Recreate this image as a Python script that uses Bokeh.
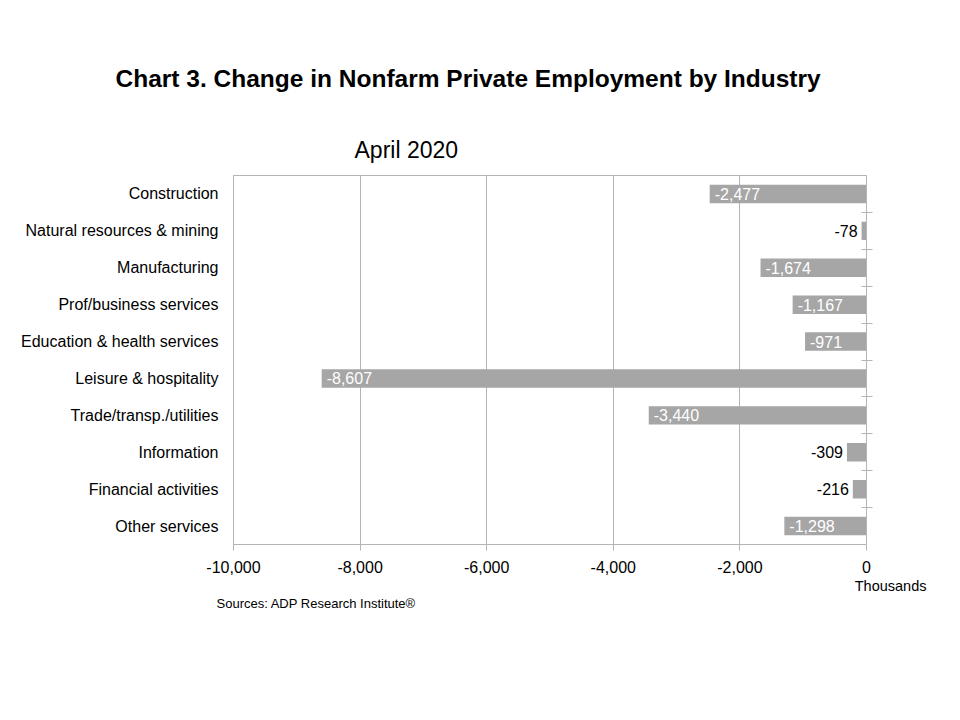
from bokeh.plotting import figure
from bokeh.models import (Range1d, FixedTicker, LinearAxis, NumeralTickFormatter,
                          Title, ColumnDataSource)
from bokeh.core.properties import value
from bokeh.embed import file_html
from bokeh.resources import INLINE

industries = ["Construction", "Natural resources & mining", "Manufacturing",
              "Prof/business services", "Education & health services",
              "Leisure & hospitality", "Trade/transp./utilities", "Information",
              "Financial activities", "Other services"]
changes = [-2477, -78, -1674, -1167, -971, -8607, -3440, -309, -216, -1298]
x_ticks = [-10000, -8000, -6000, -4000, -2000, 0]

FONT = "Liberation Sans"
GRID = "#b4b4b4"
BAR = "#a6a6a6"

n = len(industries)
ys = [n - i - 0.5 for i in range(n)]

p = figure(width=944, height=704, output_backend="svg", toolbar_location=None,
           x_range=Range1d(-10000, 0), y_range=Range1d(0, n),
           min_border_left=233, min_border_right=78, min_border_top=175,
           min_border_bottom=160, y_axis_location=None, x_axis_location=None)
p.background_fill_color = "white"
p.border_fill_color = "white"
p.outline_line_color = GRID

# bottom value axis
xa = LinearAxis(ticker=FixedTicker(ticks=x_ticks),
                formatter=NumeralTickFormatter(format="0,0"))
xa.axis_line_color = GRID
xa.major_tick_line_color = GRID
xa.major_tick_out = 6
xa.major_tick_in = 0
xa.minor_tick_line_color = None
xa.major_label_standoff = 10
xa.major_label_text_font = FONT
xa.major_label_text_font_size = "16px"
xa.major_label_text_color = "black"
p.add_layout(xa, "below")

# left category axis (labels only)
ya = LinearAxis(ticker=FixedTicker(ticks=ys),
                major_label_overrides={y: lab for y, lab in zip(ys, industries)})
ya.axis_line_color = GRID
ya.major_tick_line_color = None
ya.minor_tick_line_color = None
ya.major_label_standoff = 9
ya.major_label_text_font = FONT
ya.major_label_text_font_size = "16px"
ya.major_label_text_color = "black"
p.add_layout(ya, "left")

# right axis at zero: crossing tick marks between categories
za = LinearAxis(ticker=FixedTicker(ticks=list(range(1, n))))
za.axis_line_color = GRID
za.major_tick_line_color = GRID
za.major_tick_in = 5
za.major_tick_out = 6
za.minor_tick_line_color = None
za.major_label_text_alpha = 0
za.major_label_text_font_size = "1px"
p.add_layout(za, "right")

p.xgrid.ticker = FixedTicker(ticks=x_ticks)
p.xgrid.grid_line_color = GRID
p.ygrid.grid_line_color = None

p.hbar(y=ys, left=changes, right=0, height=0.5, fill_color=BAR, line_color=None)

labels = ["{:,}".format(v) for v in changes]
inside = [abs(v) > 500 for v in changes]
src_in = ColumnDataSource(dict(x=[v for v, k in zip(changes, inside) if k],
                               y=[y for y, k in zip(ys, inside) if k],
                               t=[t for t, k in zip(labels, inside) if k]))
src_out = ColumnDataSource(dict(x=[v for v, k in zip(changes, inside) if not k],
                                y=[y for y, k in zip(ys, inside) if not k],
                                t=[t for t, k in zip(labels, inside) if not k]))
p.text(x="x", y="y", text="t", source=src_in, text_color="white",
       text_font=value(FONT), text_font_size="16px", text_align="left",
       text_baseline="middle", x_offset=5)
p.text(x="x", y="y", text="t", source=src_out, text_color="black",
       text_font=value(FONT), text_font_size="16px", text_align="right",
       text_baseline="middle", x_offset=-4)

# titles (first added sits nearest the frame)
p.add_layout(Title(text="April 2020", text_font=FONT, text_font_size="23px",
                   text_font_style="normal", align="left", offset=121,
                   standoff=26, text_color="black"), "above")
p.add_layout(Title(text="Chart 3. Change in Nonfarm Private Employment by Industry",
                   text_font=FONT, text_font_size="24.5px", text_font_style="bold",
                   align="left", offset=-118, standoff=60, text_color="black"),
             "above")
p.add_layout(Title(text="Thousands", text_font=FONT, text_font_size="14.5px",
                   text_font_style="normal", align="right", offset=-60,
                   standoff=0, text_color="black"), "below")
p.add_layout(Title(text="Sources: ADP Research Institute\u00ae", text_font=FONT,
                   text_font_size="13px", text_font_style="normal", align="left",
                   offset=-17, standoff=0, text_color="black"), "below")

open("out.html", "w").write(file_html(p, INLINE))
